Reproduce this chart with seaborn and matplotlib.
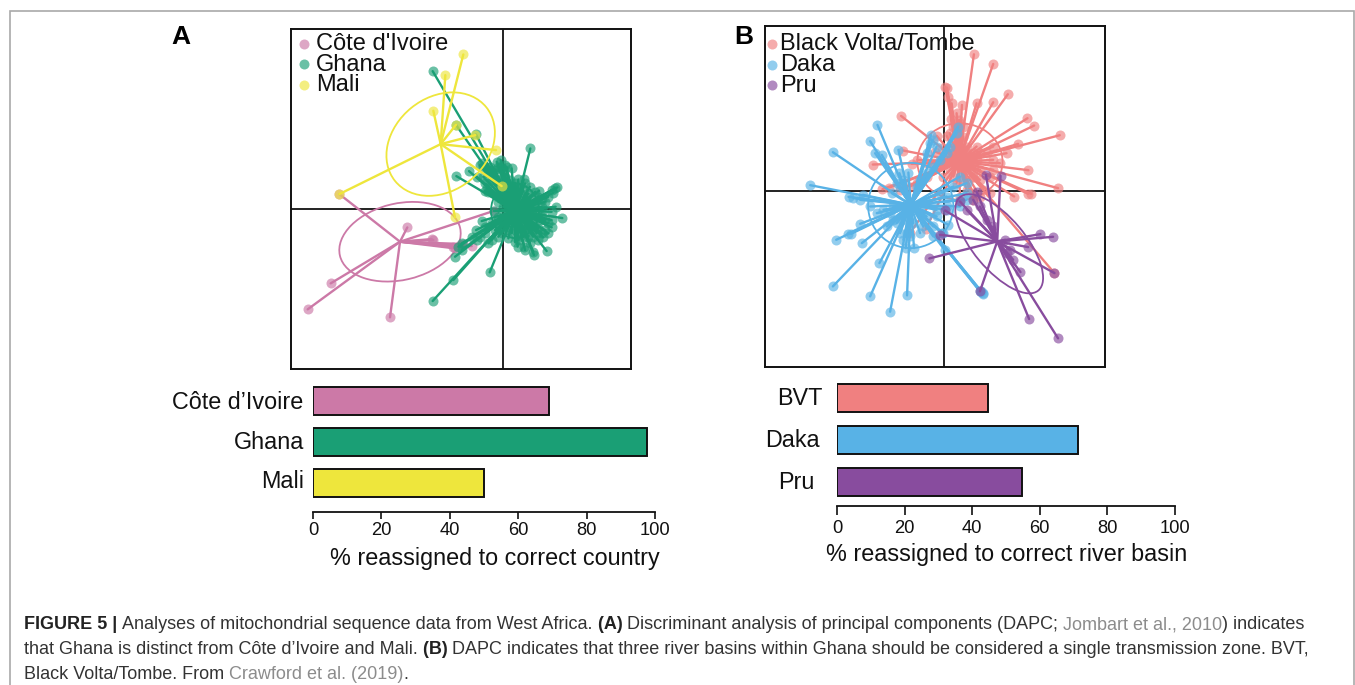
import pandas as pd
import matplotlib
matplotlib.use("Agg")
import matplotlib.pyplot as plt
from matplotlib.patches import Ellipse, Rectangle
from matplotlib.transforms import ScaledTranslation
import seaborn as sns

W, H = 1355, 685

# scatter readings, panel A
cote_x = [163, 367, 440, 445, 525, 560, 628, 137, 68, 315, 510, 505, 535]
cote_y = [522, 622, 657, 660, 675, 678, 572, 790, 868, 892, 685, 680, 672]
cote_centre = (345, 665)
mali_x = [535, 481, 445, 513, 571, 633, 510, 163, 650]
mali_y = [103, 165, 272, 314, 345, 390, 592, 522, 498]
mali_centre = (467, 372)
ghana_x = [443, 513, 573, 736, 647, 585, 665, 680, 552, 514, 700, 716, 600, 762, 817, 805, 812, 832, 800, 775,
           785, 747, 745, 718, 698, 670, 590, 573, 560, 530, 510, 505, 443, 614, 780, 770, 640, 620, 610, 630,
           655, 780, 790, 760, 600, 585, 575, 730, 750, 720, 628, 640, 650, 660, 670, 680, 695, 705, 715, 725,
           735, 745, 755, 640, 650, 665, 680, 700, 715, 730, 745, 640, 655, 670, 690, 710, 725, 740, 625, 615,
           605, 765, 775, 690, 705, 660, 645, 595, 575, 800, 810, 520, 530,
           640, 625, 650, 605, 595, 615, 635, 660, 600, 610, 625, 590, 645,
           640, 620, 600, 610, 630, 650, 620,
           790, 780, 800, 770, 760, 745, 735, 720, 700, 690, 730, 755, 770, 790, 800, 770, 760, 750, 735, 720,
           700, 690, 675, 660, 640,
           660, 720, 700, 680, 660, 650, 730, 740, 715, 680, 670, 690, 710, 730, 670, 710]
ghana_y = [153, 314, 343, 385, 420, 435, 440, 445, 453, 468, 478, 478, 512, 512, 502, 518, 560, 594, 622, 652,
           693, 705, 695, 680, 680, 655, 603, 630, 650, 670, 710, 780, 843, 757, 600, 540, 530, 480, 460, 450,
           470, 630, 610, 660, 640, 650, 660, 520, 550, 640, 572, 545, 520, 505, 495, 510, 500, 520, 510, 530,
           540, 560, 575, 600, 620, 630, 640, 645, 650, 625, 610, 590, 560, 540, 530, 590, 600, 620, 470, 490,
           505, 600, 570, 610, 625, 470, 440, 440, 470, 510, 505, 680, 690,
           440, 455, 450, 440, 470, 440, 425, 435, 490, 515, 520, 430, 480,
           650, 660, 620, 670, 630, 640, 610,
           530, 545, 575, 590, 625, 650, 670, 690, 660, 665, 650, 640, 640, 640, 600, 560, 530, 515, 500, 490,
           500, 490, 480, 500, 500,
           540, 550, 600, 600, 600, 570, 580, 600, 540, 530, 620, 630, 620, 620, 570, 570]
ghana_centre = (690, 572)

# scatter readings, panel B
bvt_x = [642, 700, 556, 561, 744, 700, 650, 606, 423, 803, 823, 573, 598, 900, 775, 740, 430, 530, 560, 525,
         545, 338, 455, 472, 806, 895, 815, 805, 763, 388, 367, 497, 450, 884, 660, 620, 700, 650, 690, 640,
         660, 610, 590, 575, 620, 640,
         640, 630, 560, 570, 610, 585, 600, 590, 620, 650, 680, 700, 660, 570, 550, 530, 520, 500, 640, 660,
         700, 720, 580, 590, 610, 550, 500, 470, 450, 420, 670, 690, 600, 640, 590, 600, 580, 570, 610, 590,
         575, 565]
bvt_y = [103, 132, 200, 203, 223, 247, 250, 255, 288, 295, 317, 298, 300, 346, 372, 400, 392, 348, 348, 395,
         385, 434, 432, 420, 451, 505, 522, 522, 530, 503, 508, 628, 640, 760, 530, 510, 380, 420, 470, 470,
         450, 350, 370, 400, 400, 540,
         400, 450, 420, 450, 390, 380, 360, 340, 380, 380, 400, 420, 400, 400, 430, 440, 430, 430, 470, 480,
         450, 430, 470, 490, 480, 470, 470, 490, 500, 510, 510, 520, 530, 520, 320, 310, 320, 340, 320, 280,
         250, 230]
bvt_centre = (597, 425)
daka_x = [352, 513, 330, 218, 345, 365, 415, 418, 445, 150, 265, 308, 395, 300, 262, 273, 228, 305, 358, 218,
          330, 390, 441, 437, 462, 425, 660, 670, 565, 555, 545, 595, 530, 620, 600, 518, 560,
          420, 430, 410, 470, 480, 500, 520, 540, 560, 570, 510, 500, 530, 590, 600, 620, 580, 560, 540, 600,
          620, 560, 530, 500, 490, 520, 480, 520, 550, 662, 668, 664, 400, 390, 370, 350, 330, 300, 280,
          400, 380, 420, 440, 430, 450, 460, 410, 480, 500]
daka_y = [315, 345, 364, 397, 400, 405, 390, 460, 458, 496, 531, 525, 520, 612, 642, 642, 660, 670, 730, 800,
          830, 876, 827, 685, 685, 600, 815, 822, 615, 692, 640, 320, 570, 490, 560, 360, 570,
          500, 480, 490, 500, 480, 460, 440, 420, 400, 380, 370, 400, 380, 340, 470, 520, 500, 530, 520, 540,
          540, 560, 590, 590, 620, 620, 640, 650, 640, 815, 820, 818, 560, 580, 570, 580, 560, 540, 535,
          600, 620, 640, 640, 660, 650, 610, 610, 570, 550]
daka_centre = (452, 555)
pru_x = [678, 722, 555, 508, 540, 660, 736, 750, 782, 805, 842, 880, 808, 895, 884, 650, 600, 620,
         640, 660, 680, 700, 740, 760]
pru_y = [465, 468, 572, 716, 645, 815, 660, 690, 757, 682, 643, 651, 898, 956, 760, 515, 545, 570,
         540, 560, 600, 620, 700, 720]
pru_centre = (712, 665)

# bar charts
countries = ["Côte d’Ivoire", "Ghana", "Mali"]
country_pct = [69, 97.6, 50]
basins = ["BVT", "Daka", "Pru"]
basin_pct = [44.8, 71.4, 54.6]
pct_ticks = [0, 20, 40, 60, 80, 100]

PINK, GREEN, YELLOW = "#cc79a7", "#1a9f75", "#eee63c"
SALMON, BLUE, PURPLE = "#f08080", "#58b2e6", "#884c9e"

caption = [
    [("FIGURE 5 | ", "bold", "#222222"), ("Analyses of mitochondrial sequence data from West Africa. ", "normal", "#333333"),
     ("(A) ", "bold", "#222222"), ("Discriminant analysis of principal components (DAPC; ", "normal", "#333333"),
     ("Jombart et al., 2010", "normal", "#8c8c8c"), (") indicates", "normal", "#333333")],
    [("that Ghana is distinct from Côte d’Ivoire and Mali. ", "normal", "#333333"), ("(B) ", "bold", "#222222"),
     ("DAPC indicates that three river basins within Ghana should be considered a single transmission zone. BVT,", "normal", "#333333")],
    [("Black Volta/Tombe. From ", "normal", "#333333"), ("Crawford et al. (2019)", "normal", "#8c8c8c"), (".", "normal", "#333333")],
]


def px_axes(fig, left, top, right, bottom):
    return fig.add_axes([left / W, 1 - bottom / H, (right - left) / W, (bottom - top) / H])


def dapc_panel(ax, groups, cross, xlim, ylim, legend_anchor, text_pad):
    for i, (name, xs, ys, centre, colour, ell) in enumerate(groups):
        z = 2 + i
        sns.scatterplot(x=xs, y=ys, ax=ax, color=colour, s=52, alpha=0.65, linewidth=0, label=name, zorder=z)
        for x, y in zip(xs, ys):
            ax.plot([centre[0], x], [centre[1], y], color=colour, lw=1.7, zorder=z, solid_capstyle="round")
        ax.add_patch(Ellipse(ell[0], ell[1] * 2, ell[2] * 2, angle=ell[3], fill=False, edgecolor=colour, lw=1.3, zorder=z))
    ax.axvline(cross[0], color="#111111", lw=1.3, zorder=1)
    ax.axhline(cross[1], color="#111111", lw=1.3, zorder=1)
    ax.set_xlim(xlim)
    ax.set_ylim(ylim)
    ax.set_xticks([])
    ax.set_yticks([])
    for s in ax.spines.values():
        s.set_visible(True)
        s.set_color("#111111")
        s.set_linewidth(1.4)
    ax.legend(loc="upper left", bbox_to_anchor=legend_anchor, frameon=False, fontsize=17, labelspacing=-0.055,
              handletextpad=text_pad, handlelength=1.0, borderpad=0, borderaxespad=0, labelcolor="#111111")


def bar_panel(ax, cats, vals, colours, xlabel, ylim, label_x, label_y, nudges, tick_len, tick_pad):
    df = pd.DataFrame({"group": cats, "pct": vals})
    sns.barplot(data=df, x="pct", y="group", hue="group", palette=colours, saturation=1, width=0.67,
                edgecolor="#111111", linewidth=1.4, legend=False, ax=ax)
    ax.set_xlim(0, 100)
    ax.set_ylim(ylim)
    ax.set_xticks(pct_ticks)
    ax.set_xlabel(xlabel, fontsize=16.8, color="#111111")
    ax.xaxis.set_label_coords(label_x, label_y)
    ax.set_ylabel("")
    ax.tick_params(axis="x", bottom=True, length=tick_len, width=1.2, labelsize=13.2, pad=tick_pad, color="#111111", labelcolor="#111111")
    ax.tick_params(axis="y", length=0, labelsize=16.8, pad=6, labelcolor="#111111")
    # labels in the original are not lined up, nudge them one by one
    for lab, (dx, dy) in zip(ax.get_yticklabels(), nudges):
        lab.set_transform(lab.get_transform() + ScaledTranslation(dx / 100, -dy / 100, ax.figure.dpi_scale_trans))
    ax.patch.set_alpha(0)
    for side in ("top", "left", "right"):
        ax.spines[side].set_visible(False)
    ax.spines["bottom"].set_linewidth(1.3)
    ax.spines["bottom"].set_color("#111111")


def main():
    sns.set_theme(style="white")
    plt.rcParams["font.family"] = ["Liberation Sans", "DejaVu Sans"]

    fig = plt.figure(figsize=(W / 100, H / 100), dpi=100)
    fig.patches.append(Rectangle((9.5 / W, -0.05), 1344.5 / W, 1 - 10.5 / H + 0.05, transform=fig.transFigure,
                                 fill=False, edgecolor="#a9a9a9", lw=1.2))

    ax_a = px_axes(fig, 291, 28.5, 631, 369)
    dapc_panel(ax_a, [
        ("Côte d'Ivoire", cote_x, cote_y, cote_centre, PINK, ((345, 665), 185, 115, -13)),
        ("Ghana", ghana_x, ghana_y, ghana_centre, GREEN, ((690, 572), 72, 82, 0)),
        ("Mali", mali_x, mali_y, mali_centre, YELLOW, ((467, 372), 176, 140, -39)),
    ], (653, 568), (18, 1038), (1047, 25), (0.004, 0.987), 0.0)

    ax_b = px_axes(fig, 765, 26, 1105, 367)
    dapc_panel(ax_b, [
        ("Black Volta/Tombe", bvt_x, bvt_y, bvt_centre, SALMON, ((600, 425), 128, 115, 0)),
        ("Daka", daka_x, daka_y, daka_centre, BLUE, ((452, 557), 128, 128, 0)),
        ("Pru", pru_x, pru_y, pru_centre, PURPLE, ((718, 672), 183, 78, 50)),
    ], (553, 513), (14, 1036), (1042, 18), (-0.015, 0.979), -0.13)

    bar_a = px_axes(fig, 313, 375, 655, 512)
    bar_panel(bar_a, countries, country_pct, [PINK, GREEN, YELLOW], "% reassigned to correct country", (2.7, -0.63),
              0.531, -0.258, [(-1, -1), (0, -2), (-1, -4)], 5, 2)
    bar_b = px_axes(fig, 837, 375, 1175, 506)
    bar_panel(bar_b, basins, basin_pct, [SALMON, BLUE, PURPLE], "% reassigned to correct river basin", (2.57, -0.55),
              0.503, -0.28, [(-6, -2), (-9, -2), (-14, -2)], 6.5, 3.5)

    fig.text(171 / W, 1 - 43.5 / H, "A", fontsize=19, fontweight="bold", color="black")
    fig.text(734 / W, 1 - 44 / H, "B", fontsize=19, fontweight="bold", color="black")

    # caption, run by run so bold and link colours sit on one line
    renderer = fig.canvas.get_renderer()
    for line, base in zip(caption, (629, 654, 679)):
        x = 24
        for text, weight, colour in line:
            t = fig.text(x / W, 1 - base / H, text, fontsize=13.0, fontweight=weight, color=colour)
            x = x + t.get_window_extent(renderer).width

    fig.savefig("out.png", dpi=100)


if __name__ == "__main__":
    main()
